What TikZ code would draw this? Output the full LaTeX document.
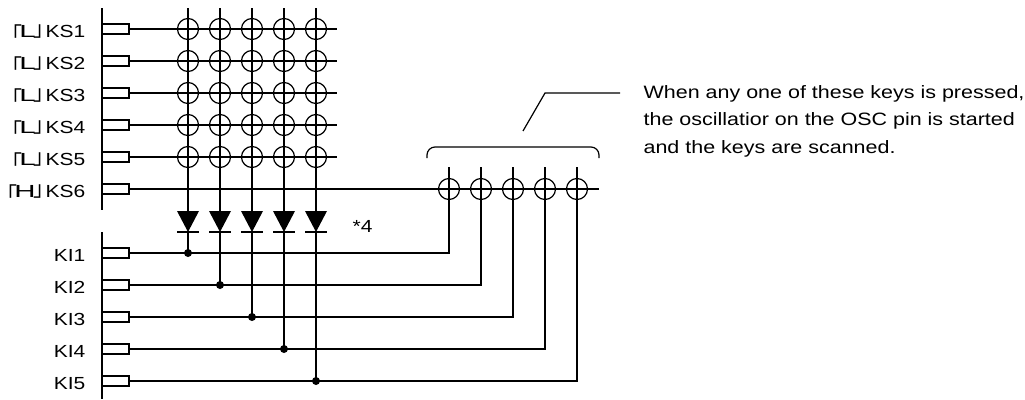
\documentclass[tikz,border=0pt]{standalone}
\usepackage{graphicx}
\usepackage{fontspec}
\setmainfont{Liberation Sans}[FakeStretch=1.2]
\newfontfamily\cjk{Noto Sans CJK JP}
\newcommand\ksopen{{\cjk\fontsize{21}{21}\selectfont\raisebox{-5.3pt}{「}}\kern-3.3pt}
\newcommand\ksclose{\kern-2.5pt{\cjk\fontsize{21}{21}\selectfont\raisebox{0.5pt}{」}}\kern-8.5pt}
\newcommand\kslevel[1]{\ksopen\scalebox{1.4}[1]{#1}\ksclose}

\tikzset{
  pin/.style={draw, rectangle, minimum width=27pt, minimum height=10pt, inner sep=0pt},
  key/.style={draw, circle, minimum size=21pt, inner sep=0pt},
  dot/.style={fill, circle, minimum size=8pt, inner sep=0pt},
  pinlabel/.style={anchor=base east, inner sep=0pt, font=\fontsize{17.5}{21}\selectfont},
  note/.style={anchor=base west, inner sep=0pt, align=left, font=\fontsize{17.9}{27.5}\selectfont},
}

\begin{document}
\begin{tikzpicture}[x=1pt, y=-1pt, line width=1.2pt]
\useasboundingbox (0,0) rectangle (1025,399);
% bus lines
\coordinate (b1) at (102,8); \coordinate (b2) at (102,210);
\coordinate (b3) at (102,232); \coordinate (b4) at (102,399);
\draw (b1) -- (b2);
\draw (b3) -- (b4);
% scan pins
\foreach \i/\l in {1/L,2/L,3/L,4/L,5/L,6/H} {
  \node[pin] (ks\i) at (115.5,{29+32*(\i-1)}) {};
  \node[pinlabel] (lks\i) at (86,{37+32*(\i-1)}) {\kslevel{\l}KS\i};
}
% input pins
\foreach \i in {1,...,5} {
  \node[pin] (ki\i) at (115.5,{253+32*(\i-1)}) {};
  \node[pinlabel] (lki\i) at (86,{261+32*(\i-1)}) {KI\i};
}
% scan lines
\foreach \i in {1,...,5} {
  \coordinate (e\i) at (337,{29+32*(\i-1)});
  \draw (ks\i.east) -- (e\i);
}
\coordinate (e6) at (599,189);
\draw (ks6.east) -- (e6);
% key matrix, diodes
\foreach \k in {1,...,5} {
  \pgfmathsetmacro\xc{188+32*(\k-1)}
  \coordinate (t\k) at (\xc,8);
  \coordinate (a\k) at (\xc,211);
  \coordinate (c\k) at (\xc,232);
  \draw (t\k) -- (a\k);
  \fill (a\k) ++(-11,0) -- ++(22,0) -- (c\k) -- cycle;
  \draw (c\k) ++(-11,0) -- ++(22,0);
  \foreach \j in {1,...,5} \node[key] (k\j\k) at (\xc,{29+32*(\j-1)}) {};
}
% KS6 keys
\foreach \k in {1,...,5} {
  \pgfmathsetmacro\xr{449+32*(\k-1)}
  \coordinate (v\k) at (\xr,167);
  \node[key] (r\k) at (\xr,189) {};
  \draw (ki\k.east) -| (v\k);
}
\foreach \k in {1,...,5} {
  \node[dot] (j\k) at (188+32*\k-32,{253+32*(\k-1)}) {};
  \draw (c\k) -- (j\k.center);
}
\node[pinlabel, anchor=base west] (n4) at (352,232) {*4};
% brace and note
\coordinate (g1) at (427,158); \coordinate (g2) at (599,147); \coordinate (g3) at (599,158);
\draw[rounded corners=8pt] (g1) |- (g2) -- (g3);
\coordinate (p1) at (523,131); \coordinate (p2) at (545,93); \coordinate (p3) at (620,93);
\draw (p1) -- (p2) -- (p3);
\node[note] (txt) at (643,153) {When any one of these keys is pressed,\\the oscillatior on the OSC pin is started\\and the keys are scanned.};
\end{tikzpicture}
\end{document}
